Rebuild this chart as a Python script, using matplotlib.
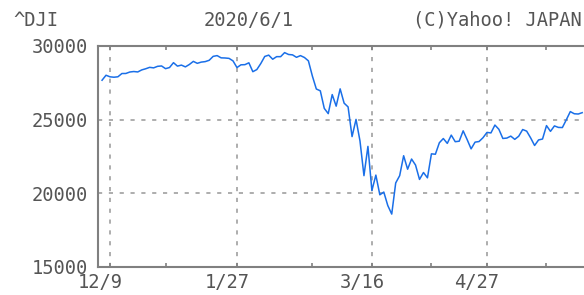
import numpy as np
import matplotlib
matplotlib.use("Agg")
import matplotlib.pyplot as plt
import matplotlib.transforms as mtransforms

# ^DJI daily closes, 2019/12/5 - 2020/6/1
dates = ["12/5", "12/6", "12/9", "12/10", "12/11", "12/12", "12/13", "12/16", "12/17", "12/18",
         "12/19", "12/20", "12/23", "12/24", "12/26", "12/27", "12/30", "12/31",
         "1/2", "1/3", "1/6", "1/7", "1/8", "1/9", "1/10", "1/13", "1/14", "1/15", "1/16", "1/17",
         "1/21", "1/22", "1/23", "1/24", "1/27", "1/28", "1/29", "1/30", "1/31",
         "2/3", "2/4", "2/5", "2/6", "2/7", "2/10", "2/11", "2/12", "2/13", "2/14",
         "2/18", "2/19", "2/20", "2/21", "2/24", "2/25", "2/26", "2/27", "2/28",
         "3/2", "3/3", "3/4", "3/5", "3/6", "3/9", "3/10", "3/11", "3/12", "3/13",
         "3/16", "3/17", "3/18", "3/19", "3/20", "3/23", "3/24", "3/25", "3/26", "3/27", "3/30", "3/31",
         "4/1", "4/2", "4/3", "4/6", "4/7", "4/8", "4/9", "4/13", "4/14", "4/15", "4/16", "4/17",
         "4/20", "4/21", "4/22", "4/23", "4/24", "4/27", "4/28", "4/29", "4/30",
         "5/1", "5/4", "5/5", "5/6", "5/7", "5/8", "5/11", "5/12", "5/13", "5/14", "5/15",
         "5/18", "5/19", "5/20", "5/21", "5/22", "5/26", "5/27", "5/28", "5/29", "6/1"]
closes = [27677, 28015, 27909, 27881, 27911, 28132, 28135, 28235, 28267, 28239,
          28377, 28455, 28551, 28516, 28621, 28645, 28462, 28538,
          28868, 28634, 28703, 28583, 28745, 28956, 28824, 28907, 28940, 29030, 29297, 29348,
          29196, 29186, 29160, 28990, 28536, 28723, 28734, 28859, 28256,
          28400, 28808, 29291, 29380, 29103, 29277, 29276, 29551, 29424, 29398,
          29232, 29348, 29220, 28992, 27961, 27081, 26958, 25766, 25409,
          26703, 25917, 27091, 26121, 25865, 23851, 25018, 23553, 21200, 23186,
          20189, 21237, 19899, 20087, 19174, 18592, 20705, 21200, 22552, 21637, 22327, 21917,
          20944, 21413, 21053, 22680, 22654, 23434, 23719, 23390, 23950, 23505, 23538, 24242,
          23650, 23019, 23475, 23516, 23775, 24134, 24101, 24634, 24346,
          23724, 23750, 23883, 23664, 23876, 24331, 24222, 23765, 23248, 23625, 23685,
          24597, 24207, 24576, 24474, 24465, 24995, 25548, 25401, 25383, 25475]
major_dates = ["12/9", "1/27", "3/16", "4/27"]
minor_dates = ["12/30", "2/24", "4/6", "5/18"]
yticks = [15000, 20000, 25000, 30000]

txt = "#555555"
edge = "#808080"
plt.rcParams["font.family"] = ["DejaVu Sans Mono"]

fig = plt.figure(figsize=(5.84, 2.95), dpi=100)
ax = fig.add_axes([98 / 584, 28 / 295, 1 - 98 / 584, 221 / 295])

x = np.arange(len(closes))
ax.plot(x, closes, color="#1a6fe8", lw=1.1)

ax.set_xlim(-1.02, 121.45)
ax.set_ylim(15000, 30000)

ax.set_xticks([dates.index(d) for d in major_dates])
ax.set_xticklabels(major_dates)
ax.set_xticks([dates.index(d) for d in minor_dates], minor=True)
ax.set_yticks(yticks)
ax.set_yticklabels([str(v) for v in yticks])

ax.tick_params(axis="x", which="both", direction="in", length=3, width=1.2,
               color=edge, top=True, labelsize=13.5, labelcolor=txt, pad=4)
ax.tick_params(axis="y", length=0, labelsize=13.5, labelcolor=txt, pad=7)
off = mtransforms.ScaledTranslation(-10 / 100, 0, fig.dpi_scale_trans)
for lab in ax.get_xticklabels():
    lab.set_transform(lab.get_transform() + off)

ax.grid(True, which="major", color="#a0a0a0", lw=1.2, linestyle=(0, (2.5, 4)))

for s in ["left", "top", "bottom"]:
    ax.spines[s].set_color(edge)
    ax.spines[s].set_linewidth(1.5)
ax.spines["right"].set_visible(False)

fig.text(13 / 584, 1 - 20 / 295, "^DJI", ha="left", va="center", fontsize=13.5, color=txt)
fig.text(249 / 584, 1 - 20 / 295, "2020/6/1", ha="center", va="center", fontsize=13.5, color=txt)
fig.text(582 / 584, 1 - 20 / 295, "(C)Yahoo! JAPAN", ha="right", va="center", fontsize=13.5, color=txt)

fig.savefig("out.png", dpi=100)
